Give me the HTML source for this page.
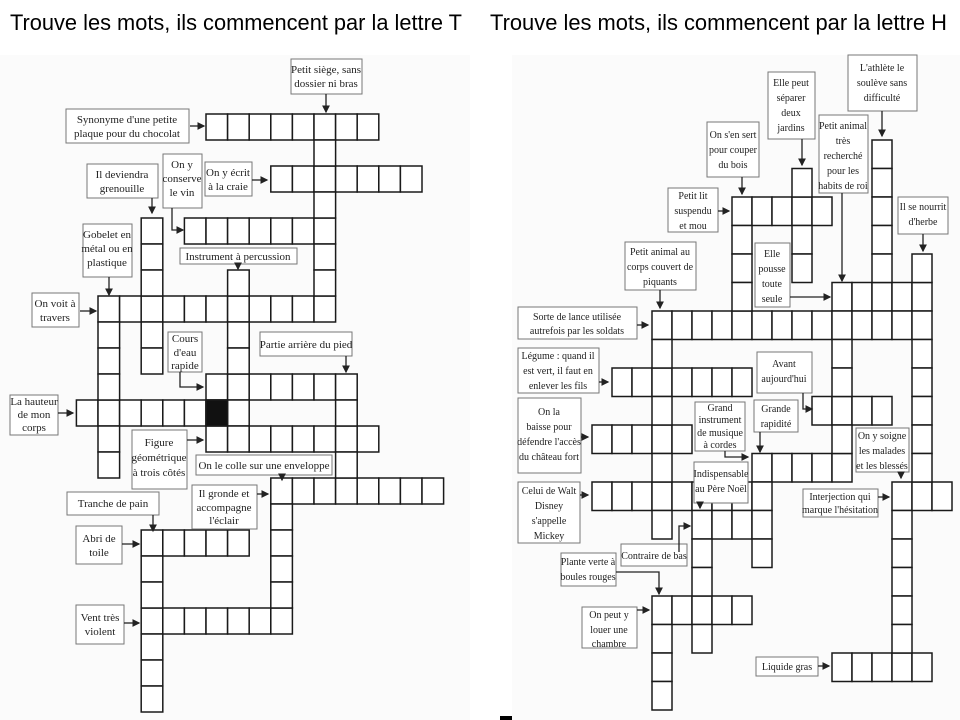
<!DOCTYPE html>
<html><head><meta charset="utf-8"><style>
html,body{margin:0;padding:0;background:#fff;width:960px;height:720px;overflow:hidden}
svg{display:block}
text{font-family:"Liberation Serif",serif;fill:#222}
.t{font-family:"Liberation Sans",sans-serif;fill:#000}
.lb{fill:#fff;stroke:#777;stroke-width:1}
.ar{stroke:#222;stroke-width:1.3;fill:none}
</style></head><body>
<svg id="s" width="960" height="720" viewBox="0 0 960 720" xmlns="http://www.w3.org/2000/svg">
<defs><marker id="m" markerWidth="6" markerHeight="6" refX="5" refY="3" orient="auto"><path d="M0,0L6,3L0,6z" fill="#222"/></marker></defs>
<rect x="0" y="55" width="470" height="665" fill="#fbfbfb"/>
<rect x="512" y="55" width="448" height="665" fill="#fbfbfb"/>
<text class="t" x="10" y="30" font-size="22" textLength="452" lengthAdjust="spacingAndGlyphs">Trouve les mots, ils commencent par la lettre T</text>
<text class="t" x="490" y="30" font-size="22" textLength="457" lengthAdjust="spacingAndGlyphs">Trouve les mots, ils commencent par la lettre H</text>
<rect x="500" y="716" width="12" height="4" fill="#000"/>
<g id="cells"></g>

<!-- LEFT labels -->
<g font-size="11" text-anchor="middle">
<rect class="lb" x="291" y="59" width="71" height="35"/><text x="326" y="73">Petit siège, sans</text><text x="326" y="87">dossier ni bras</text>
<rect class="lb" x="66" y="109" width="123" height="34"/><text x="127" y="123">Synonyme d'une petite</text><text x="127" y="137">plaque pour du chocolat</text>
<rect class="lb" x="87" y="164" width="71" height="34"/><text x="122" y="178">Il deviendra</text><text x="122" y="192">grenouille</text>
<rect class="lb" x="163" y="154" width="39" height="54"/><text x="182" y="168">On y</text><text x="182" y="182">conserve</text><text x="182" y="196">le vin</text>
<rect class="lb" x="205" y="162" width="47" height="34"/><text x="228" y="176">On y écrit</text><text x="228" y="190">à la craie</text>
<rect class="lb" x="83" y="224" width="49" height="53"/><text x="107" y="238">Gobelet en</text><text x="107" y="252">métal ou en</text><text x="107" y="266">plastique</text>
<rect class="lb" x="180" y="248" width="117" height="16"/><text x="238" y="260">Instrument à percussion</text>
<rect class="lb" x="32" y="293" width="47" height="34"/><text x="55" y="307">On voit à</text><text x="55" y="321">travers</text>
<rect class="lb" x="168" y="332" width="34" height="40"/><text x="185" y="342">Cours</text><text x="185" y="356">d'eau</text><text x="185" y="369">rapide</text>
<rect class="lb" x="260" y="332" width="92" height="24"/><text x="306" y="348">Partie arrière du pied</text>
<rect class="lb" x="10" y="395" width="48" height="40"/><text x="34" y="405">La hauteur</text><text x="34" y="418">de mon</text><text x="34" y="431">corps</text>
<rect class="lb" x="132" y="430" width="55" height="59"/><text x="159" y="446">Figure</text><text x="159" y="461">géométrique</text><text x="159" y="476">à trois côtés</text>
<rect class="lb" x="196" y="455" width="136" height="20"/><text x="264" y="469">On le colle sur une enveloppe</text>
<rect class="lb" x="192" y="485" width="65" height="44"/><text x="224" y="497">Il gronde et</text><text x="224" y="511">accompagne</text><text x="224" y="524">l'éclair</text>
<rect class="lb" x="67" y="492" width="92" height="23"/><text x="113" y="507">Tranche de pain</text>
<rect class="lb" x="76" y="526" width="46" height="38"/><text x="99" y="542">Abri de</text><text x="99" y="556">toile</text>
<rect class="lb" x="76" y="605" width="48" height="39"/><text x="100" y="621">Vent très</text><text x="100" y="635">violent</text>
</g>
<g class="ar" marker-end="url(#m)">
<path d="M326,94V112"/><path d="M190,126H204"/><path d="M152,198V213"/><path d="M172,208V230H183"/>
<path d="M252,180H267"/><path d="M109,277V295"/><path d="M238,264V269"/><path d="M80,311H96"/>
<path d="M180,372V387H203"/><path d="M346,356V372"/><path d="M58,413H73"/><path d="M187,440H203"/>
<path d="M282,475V480"/><path d="M257,494H268"/><path d="M153,515V531"/><path d="M122,544H139"/><path d="M124,623H139"/>
</g>

<!-- RIGHT labels -->
<g font-size="10" text-anchor="middle">
<rect class="lb" x="848" y="55" width="69" height="56"/><text x="882" y="71">L'athlète le</text><text x="882" y="86">soulève sans</text><text x="882" y="101">difficulté</text>
<rect class="lb" x="768" y="72" width="47" height="67"/><text x="791" y="86">Elle peut</text><text x="791" y="101">séparer</text><text x="791" y="116">deux</text><text x="791" y="131">jardins</text>
<rect class="lb" x="819" y="115" width="49" height="78"/><text x="843" y="129">Petit animal</text><text x="843" y="144">très</text><text x="843" y="159">recherché</text><text x="843" y="174">pour les</text><text x="843" y="189">habits de roi</text>
<rect class="lb" x="707" y="122" width="52" height="55"/><text x="733" y="138">On s'en sert</text><text x="733" y="153">pour couper</text><text x="733" y="168">du bois</text>
<rect class="lb" x="668" y="188" width="50" height="44"/><text x="693" y="199">Petit lit</text><text x="693" y="214">suspendu</text><text x="693" y="229">et mou</text>
<rect class="lb" x="898" y="197" width="50" height="37"/><text x="923" y="210">Il se nourrit</text><text x="923" y="225">d'herbe</text>
<rect class="lb" x="625" y="242" width="71" height="48"/><text x="660" y="255">Petit animal au</text><text x="660" y="270">corps couvert de</text><text x="660" y="285">piquants</text>
<rect class="lb" x="755" y="243" width="35" height="64"/><text x="772" y="257">Elle</text><text x="772" y="272">pousse</text><text x="772" y="287">toute</text><text x="772" y="302">seule</text>
<rect class="lb" x="518" y="307" width="119" height="32"/><text x="577" y="320">Sorte de lance utilisée</text><text x="577" y="334">autrefois par les soldats</text>
<rect class="lb" x="518" y="348" width="81" height="45"/><text x="558" y="359">Légume : quand il</text><text x="558" y="374">est vert, il faut en</text><text x="558" y="389">enlever les fils</text>
<rect class="lb" x="757" y="352" width="55" height="41"/><text x="784" y="367">Avant</text><text x="784" y="382">aujourd'hui</text>
<rect class="lb" x="518" y="398" width="63" height="75"/><text x="549" y="415">On la</text><text x="549" y="430">baisse pour</text><text x="549" y="445">défendre l'accès</text><text x="549" y="460">du château fort</text>
<rect class="lb" x="695" y="402" width="50" height="49"/><text x="720" y="411">Grand</text><text x="720" y="423">instrument</text><text x="720" y="436">de musique</text><text x="720" y="448">à cordes</text>
<rect class="lb" x="754" y="400" width="44" height="32"/><text x="776" y="412">Grande</text><text x="776" y="427">rapidité</text>
<rect class="lb" x="856" y="428" width="53" height="44"/><text x="882" y="439">On y soigne</text><text x="882" y="454">les malades</text><text x="882" y="469">et les blessés</text>
<rect class="lb" x="518" y="482" width="62" height="61"/><text x="549" y="494">Celui de Walt</text><text x="549" y="509">Disney</text><text x="549" y="524">s'appelle</text><text x="549" y="539">Mickey</text>
<rect class="lb" x="694" y="462" width="54" height="41"/><text x="721" y="477">Indispensable</text><text x="721" y="492">au Père Noël</text>
<rect class="lb" x="803" y="489" width="75" height="28"/><text x="840" y="500">Interjection qui</text><text x="840" y="513">marque l'hésitation</text>
<rect class="lb" x="621" y="544" width="66" height="22"/><text x="654" y="559">Contraire de bas</text>
<rect class="lb" x="561" y="553" width="55" height="33"/><text x="588" y="565">Plante verte à</text><text x="588" y="580">boules rouges</text>
<rect class="lb" x="582" y="607" width="55" height="41"/><text x="609" y="618">On peut y</text><text x="609" y="633">louer une</text><text x="609" y="647">chambre</text>
<rect class="lb" x="756" y="657" width="62" height="19"/><text x="787" y="670">Liquide gras</text>
</g>
<g class="ar" marker-end="url(#m)">
<path d="M882,111V136"/><path d="M802,139V165"/><path d="M842,193V281"/><path d="M742,177V194"/>
<path d="M718,211H729"/><path d="M923,234V251"/><path d="M660,290V308"/><path d="M790,297H830"/>
<path d="M637,325H648"/><path d="M599,382H608"/><path d="M803,393V409H812"/><path d="M581,437H588"/>
<path d="M725,451V457H748"/><path d="M760,432V452"/><path d="M901,472V478"/><path d="M580,495H588"/>
<path d="M700,503V508"/><path d="M878,497H889"/><path d="M679,552V526H690"/><path d="M616,572H659V594"/>
<path d="M637,610H649"/><path d="M818,666H829"/>
</g>
</svg>
<script>
(function(){
var g=document.getElementById('cells'),NS='http://www.w3.org/2000/svg',done={};
function cell(x,y,w,h,f){var k=Math.round(x)+','+Math.round(y);if(done[k]&&!f)return;done[k]=1;
var r=document.createElementNS(NS,'rect');r.setAttribute('x',x);r.setAttribute('y',y);r.setAttribute('width',w);r.setAttribute('height',h);
r.setAttribute('fill',f||'#fff');r.setAttribute('stroke','#1a1a1a');r.setAttribute('stroke-width','1.5');g.appendChild(r);}
function grid(x0,y0,cw,rh,H,V){
H.forEach(function(a){for(var i=0;i<a[2];i++)cell(x0+(a[1]+i)*cw,y0+a[0]*rh,cw,rh);});
V.forEach(function(a){for(var i=0;i<a[2];i++)cell(x0+a[0]*cw,y0+(a[1]+i)*rh,cw,rh);});}
grid(206,114,21.6,26,
[[0,0,8],[2,3,7],[4,-1,7],[7,-5,11],[10,0,7],[11,-6,8],[12,0,8],[14,3,8],[16,-3,5],[19,-3,7]],
[[5,0,8],[-3,4,6],[-5,7,7],[1,6,7],[6,10,5],[3,14,6],[-3,16,7]]);
cell(206,114+11*26,21.6,26,'#111');
grid(652,140,20,28.5,
[[2,4,5],[5,9,5],[6,0,14],[8,-2,7],[9,8,4],[10,-3,5],[11,5,5],[12,-3,9],[12,12,3],[13,2,4],[16,0,5],[18,9,5]],
[[11,0,7],[7,1,4],[4,2,5],[13,4,9],[9,5,7],[0,6,8],[5,11,4],[12,12,7],[2,13,5],[0,16,4]]);
})();
</script>
</body></html>
